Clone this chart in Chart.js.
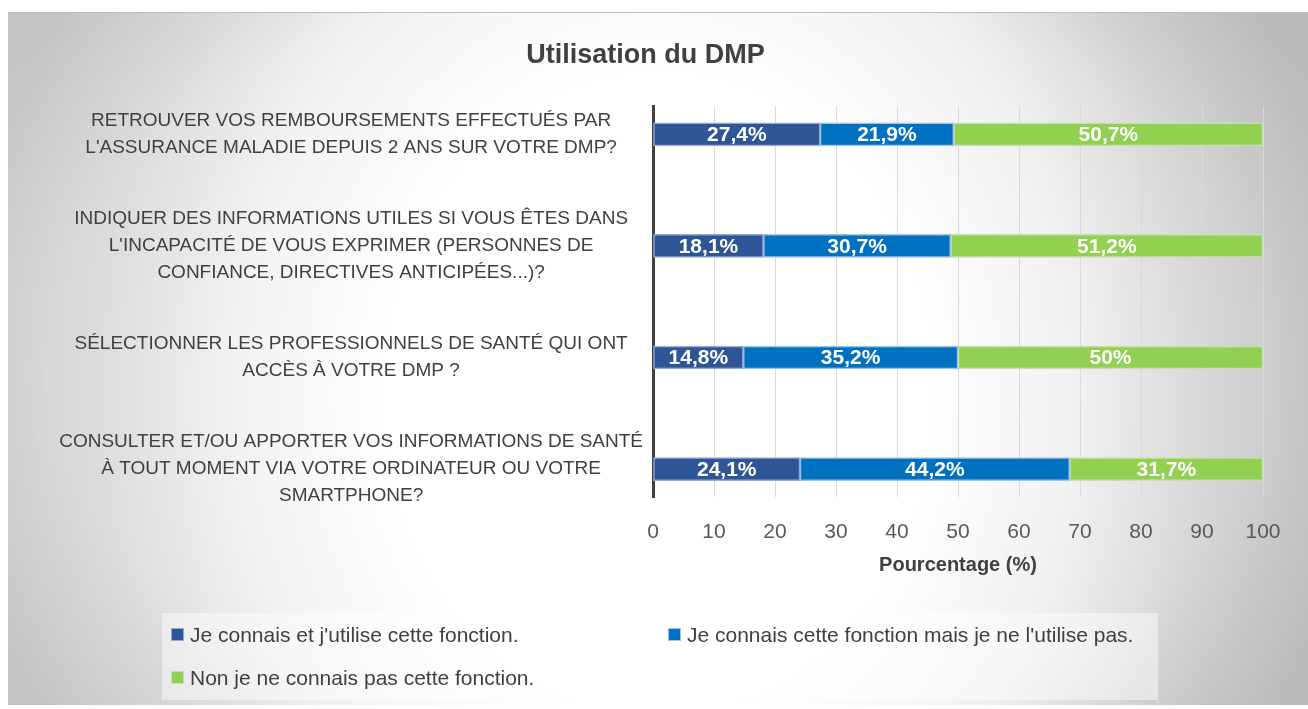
<!DOCTYPE html>
<html lang="fr">
<head>
<meta charset="utf-8">
<title>Utilisation du DMP</title>
<script src="https://cdn.jsdelivr.net/npm/chart.js@4.4.1/dist/chart.umd.min.js"></script>
<style>
  html, body { margin: 0; padding: 0; background: #ffffff; }
  #box {
    position: absolute; left: 8px; top: 12px; width: 1300px; height: 693px;
    border-top: 1px solid #bdbdbd;
    box-sizing: border-box;
    background:
      radial-gradient(ellipse 62% 75% at 50% 50%, rgba(0,0,0,0) 75%, rgba(0,0,0,0.05) 100%),
      radial-gradient(ellipse 50% 110% at 50% 55%, #ffffff 0%, #ffffff 42%, rgba(255,255,255,0.75) 65%, rgba(255,255,255,0.3) 85%, rgba(255,255,255,0) 105%),
      linear-gradient(to right, #d0d0d0, #c4c4c4);
  }
  #box canvas { position: absolute; left: 0; top: 0; }
  #legend {
    position: absolute; left: 154px; top: 600px; width: 996px; height: 87px;
    box-sizing: border-box; padding: 0 0 0 9px;
    background: rgba(255,255,255,0.45);
    display: grid; grid-template-columns: 497px 490px; grid-auto-rows: 43px; align-items: center;
    font-family: 'Liberation Sans', Arial, sans-serif; font-size: 21px; color: #404040;
  }
  #legend .item { display: flex; align-items: center; white-space: nowrap; }
  #legend .sw { width: 13px; height: 13px; margin-right: 6px; box-sizing: border-box; border: 1px solid; }
</style>
</head>
<body>
<div id="box">
  <canvas id="dmpChart"></canvas>
  <div id="legend"></div>
</div>
<script>
var categories = [
    ["RETROUVER VOS REMBOURSEMENTS EFFECTUÉS PAR", "L'ASSURANCE MALADIE DEPUIS 2 ANS SUR VOTRE DMP?"],
    ["INDIQUER DES INFORMATIONS UTILES SI VOUS ÊTES DANS", "L'INCAPACITÉ DE VOUS EXPRIMER (PERSONNES DE", "CONFIANCE, DIRECTIVES ANTICIPÉES...)?"],
    ["SÉLECTIONNER LES PROFESSIONNELS DE SANTÉ QUI ONT", "ACCÈS À VOTRE DMP ?"],
    ["CONSULTER ET/OU APPORTER VOS INFORMATIONS DE SANTÉ", "À TOUT MOMENT VIA VOTRE ORDINATEUR OU VOTRE", "SMARTPHONE?"]
];

var seriesNames = [
    "Je connais et j'utilise cette fonction.",
    "Je connais cette fonction mais je ne l'utilise pas.",
    "Non je ne connais pas cette fonction."
];

var utilise = [27.4, 18.1, 14.8, 24.1];
var connaisSansUtiliser = [21.9, 30.7, 35.2, 44.2];
var neConnaisPas = [50.7, 51.2, 50, 31.7];

var xTicks = [0, 10, 20, 30, 40, 50, 60, 70, 80, 90, 100];

var fills = ["#2F5597", "#0070C0", "#92D050"];
var edges = ["#8FAADC", "#9DC3E6", "#C5E0B4"];

var FONT = "'Liberation Sans', Arial, sans-serif";
Chart.defaults.font.family = FONT;

function toPoints(values) {
    return values.map(function (v, i) { return { x: v, y: i }; });
}

// white percentage labels inside each bar segment
var barLabels = {
    id: "barLabels",
    afterDatasetsDraw: function (chart) {
        var ctx = chart.ctx;
        ctx.save();
        ctx.fillStyle = "#ffffff";
        ctx.font = "bold 21px " + FONT;
        ctx.textAlign = "center";
        ctx.textBaseline = "middle";
        chart.data.datasets.forEach(function (ds, d) {
            chart.getDatasetMeta(d).data.forEach(function (bar, i) {
                var p = bar.getProps(["x", "y", "base"], true);
                var txt = String(ds.data[i].x).replace(".", ",") + "%";
                ctx.fillText(txt, (p.x + p.base) / 2, p.y + 1);
            });
        });
        ctx.restore();
    }
};

var chart = new Chart(document.getElementById("dmpChart"), {
    type: "bar",
    data: {
        datasets: [
            { label: seriesNames[0], data: toPoints(utilise) },
            { label: seriesNames[1], data: toPoints(connaisSansUtiliser) },
            { label: seriesNames[2], data: toPoints(neConnaisPas) }
        ].map(function (ds, i) {
            ds.backgroundColor = fills[i];
            ds.borderColor = edges[i];
            ds.borderWidth = 1.5;
            ds.borderSkipped = false;
            ds.barThickness = 23;
            return ds;
        })
    },
    options: {
        indexAxis: "y",
        responsive: true,
        maintainAspectRatio: false,
        animation: false,
        layout: { padding: { left: 20, right: 45, top: 0, bottom: 124 } },
        plugins: {
            legend: { display: false },
            tooltip: { enabled: false },
            title: {
                display: true,
                text: "Utilisation du DMP",
                color: "#404040",
                font: { size: 27, weight: "bold" },
                padding: { top: 26, bottom: 35 }
            }
        },
        scales: {
            x: {
                type: "linear",
                min: 0,
                max: 100,
                stacked: true,
                grid: { color: "#d9d9d9", drawTicks: false },
                border: { display: false },
                afterBuildTicks: function (s) {
                    s.ticks = xTicks.map(function (v) { return { value: v }; });
                },
                afterFit: function (s) { s.height = 84; },
                ticks: { padding: 23, color: "#595959", font: { size: 21 } },
                title: {
                    display: true,
                    text: "Pourcentage (%)",
                    color: "#404040",
                    font: { size: 20, weight: "bold" },
                    padding: { top: 11, bottom: 4 }
                }
            },
            y: {
                type: "linear",
                reverse: true,
                offset: false,
                min: -0.25,
                max: 3.25,
                stacked: true,
                grid: { display: false },
                border: { display: true, color: "#404040", width: 3 },
                afterFit: function (s) { s.width = 625; },
                ticks: {
                    stepSize: 1,
                    includeBounds: false,
                    autoSkip: false,
                    crossAlign: "center",
                    padding: 2,
                    color: "#404040",
                    font: { size: 19, lineHeight: 1.42 },
                    callback: function (v) { return categories[v] || ""; }
                }
            }
        }
    },
    plugins: [barLabels]
});

// legend in two columns, like the original
var legend = document.getElementById("legend");
chart.data.datasets.forEach(function (ds) {
    var item = document.createElement("div");
    item.className = "item";
    var sw = document.createElement("span");
    sw.className = "sw";
    sw.style.background = ds.backgroundColor;
    sw.style.borderColor = ds.borderColor;
    item.appendChild(sw);
    item.appendChild(document.createTextNode(ds.label));
    legend.appendChild(item);
});
</script>
</body>
</html>
